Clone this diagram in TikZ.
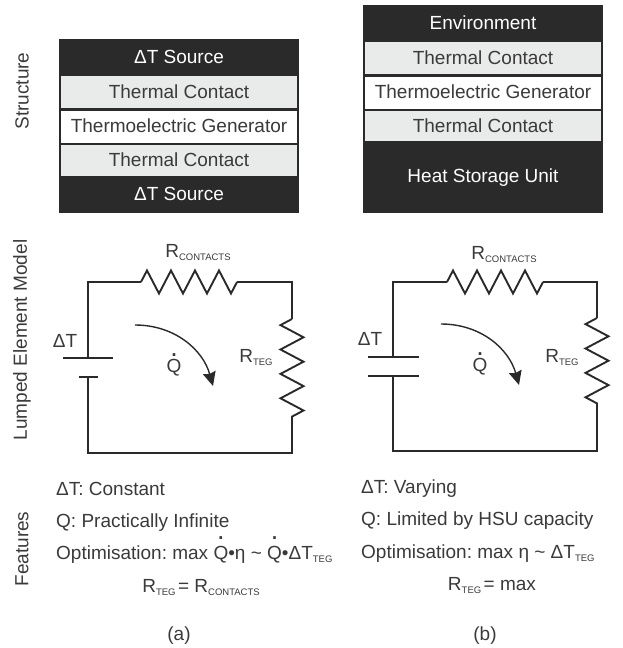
\documentclass[tikz,border=0pt]{standalone}
\usepackage{fontspec}
\setmainfont{Liberation Sans}
\usetikzlibrary{arrows.meta,decorations.pathmorphing}
\definecolor{layerdark}{HTML}{2B2A2B}
\definecolor{layerlight}{HTML}{E9EBEA}
\definecolor{textgrey}{HTML}{3A3A3A}
\frenchspacing
\newcommand{\subtxt}[1]{\raisebox{-3.5pt}{\fontsize{9.5}{9.5}\selectfont #1}}
\newcommand{\qdot}[1][15.5pt]{\ooalign{Q\cr\hidewidth\smash{\raisebox{#1}{\fontsize{27}{27}\selectfont .}}\hidewidth\cr}}
\begin{document}
\begin{tikzpicture}[x=1pt, y=-1pt,
    every node/.style={font=\fontsize{19}{22}\selectfont, text=textgrey, inner sep=0pt},
    layer_style/.style={draw=layerdark, line width=2pt, minimum width=238pt, text height=13pt, text depth=1pt},
    dark_style/.style={layer_style, fill=layerdark, text=white},
    contact_style/.style={layer_style, fill=layerlight},
    teg_style/.style={layer_style, fill=white},
    row_style/.style={rotate=90},
    feature_style/.style={anchor=base west},
    center_style/.style={anchor=base},
    wire_style/.style={draw=layerdark, line width=1.9pt},
    resistor_h_style/.style={wire_style, decorate, decoration={zigzag, segment length=24pt, amplitude=11.5pt}},
    resistor_v_style/.style={wire_style, decorate, decoration={zigzag, segment length=24.4pt, amplitude=11.5pt, mirror}},
    flow_style/.style={draw=layerdark, line width=1.4pt, -{Stealth[length=14pt,width=13pt,inset=1.5pt]}}]

    % row titles
    \node[row_style] (title_structure) at (22,91) {Structure};
    \node[row_style] (title_model) at (22,340) {Lumped Element Model};
    \node[row_style] (title_features) at (22,549) {Features};

    % stack (a)
    \node[dark_style, minimum height=35pt] (a_top) at (179,57.5) {ΔT Source};
    \node[contact_style, minimum height=34pt] (a_contact1) at (179,92) {Thermal Contact};
    \node[teg_style, minimum height=34pt] (a_teg) at (179,126.5) {Thermoelectric Generator};
    \node[contact_style, minimum height=33pt] (a_contact2) at (179,160) {Thermal Contact};
    \node[dark_style, minimum height=35pt] (a_bottom) at (179,194) {ΔT Source};

    % stack (b)
    \node[dark_style, minimum height=35pt] (b_top) at (483,23.5) {Environment};
    \node[contact_style, minimum height=34pt] (b_contact1) at (483,58) {Thermal Contact};
    \node[teg_style, minimum height=34pt] (b_teg) at (483,92.5) {Thermoelectric Generator};
    \node[contact_style, minimum height=33pt] (b_contact2) at (483,126) {Thermal Contact};
    \node[dark_style, minimum height=70pt, text depth=3pt] (b_bottom) at (483,177) {Heat Storage Unit};

    % circuit (a)
    \coordinate (a_tl) at (88,282);
    \coordinate (a_tr) at (292,282);
    \coordinate (a_br) at (292,453);
    \coordinate (a_bl) at (88,453);
    \coordinate (a_rc1) at (141,282);
    \coordinate (a_rc2) at (237,282);
    \coordinate (a_rt1) at (292,319);
    \coordinate (a_rt2) at (292,417);
    \coordinate (a_plate1l) at (63,358);
    \coordinate (a_plate1r) at (113,358);
    \coordinate (a_plate1m) at (88,358);
    \coordinate (a_plate2l) at (79,377);
    \coordinate (a_plate2r) at (98,377);
    \coordinate (a_plate2m) at (88,377);
    \coordinate (a_flow1) at (135,325);
    \coordinate (a_flow2) at (213,386);

    \draw[wire_style] (a_plate1m) -- (a_tl) -- (a_rc1);
    \draw[resistor_h_style] (a_rc1) -- (a_rc2);
    \draw[wire_style] (a_rc2) -- (a_tr) -- (a_rt1);
    \draw[resistor_v_style] (a_rt1) -- (a_rt2);
    \draw[wire_style] (a_rt2) -- (a_br) -- (a_bl) -- (a_plate2m);
    \draw[wire_style] (a_plate1l) -- (a_plate1r);
    \draw[wire_style] (a_plate2l) -- (a_plate2r);
    \draw[flow_style] (a_flow1) .. controls (175,325) and (203,350) .. (a_flow2);

    \node[center_style] (a_lab_rc) at (198,257) {R\subtxt{CONTACTS}};
    \node[center_style] (a_lab_rt) at (256,362) {R\subtxt{TEG}};
    \node[center_style] (a_lab_dt) at (65,347) {ΔT};
    \node[center_style] (a_lab_q) at (174,372) {\qdot};

    % circuit (b)
    \coordinate (b_tl) at (393,282);
    \coordinate (b_tr) at (597,282);
    \coordinate (b_br) at (597,451);
    \coordinate (b_bl) at (393,451);
    \coordinate (b_rc1) at (447,282);
    \coordinate (b_rc2) at (543,282);
    \coordinate (b_rt1) at (597,318);
    \coordinate (b_rt2) at (597,415);
    \coordinate (b_plate1l) at (368,357);
    \coordinate (b_plate1r) at (419,357);
    \coordinate (b_plate1m) at (393,357);
    \coordinate (b_plate2l) at (368,376);
    \coordinate (b_plate2r) at (419,376);
    \coordinate (b_plate2m) at (393,376);
    \coordinate (b_flow1) at (441,324);
    \coordinate (b_flow2) at (519,385);

    \draw[wire_style] (b_plate1m) -- (b_tl) -- (b_rc1);
    \draw[resistor_h_style] (b_rc1) -- (b_rc2);
    \draw[wire_style] (b_rc2) -- (b_tr) -- (b_rt1);
    \draw[resistor_v_style] (b_rt1) -- (b_rt2);
    \draw[wire_style] (b_rt2) -- (b_br) -- (b_bl) -- (b_plate2m);
    \draw[wire_style] (b_plate1l) -- (b_plate1r);
    \draw[wire_style] (b_plate2l) -- (b_plate2r);
    \draw[flow_style] (b_flow1) .. controls (481,324) and (509,349) .. (b_flow2);

    \node[center_style] (b_lab_rc) at (504,259) {R\subtxt{CONTACTS}};
    \node[center_style] (b_lab_rt) at (562,362) {R\subtxt{TEG}};
    \node[center_style] (b_lab_dt) at (370,345) {ΔT};
    \node[center_style] (b_lab_q) at (480,371) {\qdot};

    % features (a)
    \node[feature_style] (a_feat1) at (56,495) {ΔT: Constant};
    \node[feature_style] (a_feat2) at (56,527) {Q: Practically Infinite};
    \node[feature_style] (a_feat3) at (56,559) {Optimisation: max \qdot[19.5pt]•η \textasciitilde{} \qdot[19.5pt]•ΔT\subtxt{TEG}};
    \node[center_style] (a_feat4) at (201,592) {R\subtxt{TEG}\hspace{2.5pt}= R\subtxt{CONTACTS}};
    \node[center_style] (a_caption) at (179,640) {(a)};

    % features (b)
    \node[feature_style] (b_feat1) at (361,493) {ΔT: Varying};
    \node[feature_style] (b_feat2) at (361,525) {Q: Limited by HSU capacity};
    \node[feature_style] (b_feat3) at (361,558) {Optimisation: max η \textasciitilde{} ΔT\subtxt{TEG}};
    \node[center_style] (b_feat4) at (492,590) {R\subtxt{TEG}\hspace{2.5pt}= max};
    \node[center_style] (b_caption) at (485,640) {(b)};

    \useasboundingbox (0,0) rectangle (623,648);
\end{tikzpicture}
\end{document}
